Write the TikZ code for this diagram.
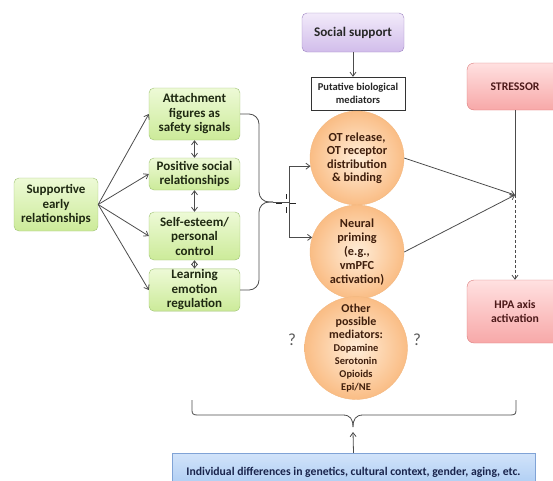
\documentclass[tikz,border=0pt]{standalone}
\usepackage{fontspec}
\setmainfont{Carlito}
\usetikzlibrary{arrows.meta,calc}

\definecolor{grnTop}{rgb}{0.93,0.98,0.84}
\definecolor{grnBot}{rgb}{0.80,0.92,0.60}
\definecolor{grnLine}{rgb}{0.62,0.76,0.45}
\definecolor{grnText}{rgb}{0.12,0.16,0.07}
\definecolor{purTop}{rgb}{0.95,0.92,0.98}
\definecolor{purBot}{rgb}{0.82,0.74,0.92}
\definecolor{purLine}{rgb}{0.62,0.52,0.76}
\definecolor{orgIn}{rgb}{1.00,0.93,0.85}
\definecolor{orgOut}{rgb}{0.98,0.74,0.52}
\definecolor{orgLine}{rgb}{0.95,0.72,0.50}
\definecolor{orgText}{rgb}{0.25,0.12,0.05}
\definecolor{redTop}{rgb}{1.00,0.88,0.88}
\definecolor{redBot}{rgb}{0.97,0.66,0.66}
\definecolor{redLine}{rgb}{0.86,0.48,0.48}
\definecolor{redText}{rgb}{0.30,0.10,0.10}
\definecolor{bluTop}{rgb}{0.82,0.89,0.98}
\definecolor{bluBot}{rgb}{0.66,0.79,0.95}
\definecolor{bluLine}{rgb}{0.50,0.64,0.84}
\definecolor{bluText}{rgb}{0.10,0.14,0.30}
\definecolor{wire}{rgb}{0.30,0.30,0.30}

\newcommand\medbig{\fontsize{12}{13.5}\selectfont}

\tikzset{
  x=1pt, y=1pt,
  txt/.style={font=\fontsize{13}{14.5}\selectfont\bfseries, align=center, inner sep=1pt},
  greenbox/.style={txt, draw=grnLine, rounded corners=5pt, top color=grnTop,
    bottom color=grnBot, text=grnText, minimum width=91pt},
  purplebox/.style={txt, font=\fontsize{13.2}{15}\selectfont\bfseries, draw=purLine,
    rounded corners=5pt, top color=purTop, bottom color=purBot, text=black!85,
    minimum width=102pt, minimum height=39pt},
  plainbox/.style={txt, font=\fontsize{10.5}{13}\selectfont\bfseries, draw=black!80,
    fill=white, text=black!85, minimum width=94pt, minimum height=33pt},
  mediator/.style={txt, font=\fontsize{12.3}{13.5}\selectfont\bfseries, circle,
    draw=orgLine, inner color=orgIn, outer color=orgOut, text=orgText,
    minimum size=94pt, inner sep=0pt},
  redbox/.style={txt, font=\fontsize{11.7}{14}\selectfont\bfseries, draw=redLine,
    rounded corners=7pt, top color=redTop, bottom color=redBot, text=redText,
    minimum width=96pt},
  bluebox/.style={txt, font=\fontsize{11.7}{13}\selectfont\bfseries, draw=bluLine,
    top color=bluTop, bottom color=bluBot, text=bluText,
    minimum width=363pt, minimum height=38pt},
  conn/.style={draw=wire, line width=0.8pt},
  arr/.style={conn, -{Straight Barb[length=4pt,width=6pt]}},
  dblarr/.style={conn, {Straight Barb[length=4pt,width=6pt]}-{Straight Barb[length=4pt,width=6pt]}},
  query/.style={font=\fontsize{17}{17}\selectfont, text=black!65},
}

\begin{document}
\begin{tikzpicture}
\useasboundingbox (0,0) rectangle (553,-480);

% left column: early relationships and what they build
\node[greenbox, minimum width=84pt, minimum height=53pt] (sup) at (56,-204.5)
  {Supportive\\early\\relationships};
\node[greenbox, minimum height=52pt] (att) at (194.5,-114)
  {Attachment\\figures as\\safety signals};
\node[greenbox, minimum height=32pt] (pos) at (194.5,-174)
  {Positive social\\relationships};
\node[greenbox, minimum height=48pt] (self) at (194.5,-236)
  {Self-esteem/\\personal\\control};
\node[greenbox, minimum height=42pt] (learn) at (194.5,-290)
  {Learning\\emotion\\regulation};

\foreach \t in {att,pos,self,learn}
  \draw[arr] (sup.east) -- (\t.west);
\draw[dblarr] (att.south) -- (pos.north);
\draw[dblarr] (pos.south) -- (self.north);
\draw[dblarr] (self.south) -- (learn.north);

% middle column: social support and its mediators
\node[purplebox] (soc) at (353,-32.5) {Social support};
\node[plainbox] (put) at (358,-93.5) {Putative biological\\mediators};
\draw[arr] (soc.south) -- (soc.south |- put.north);

\node[mediator] (ot) at (357,-158) {OT release,\\OT receptor\\distribution\\\& binding};
\node[mediator, font=\fontsize{12.3}{14}\selectfont\bfseries] (neu) at (357,-252)
  {Neural\\priming\\(e.g.,\\vmPFC\\activation)};
\node[mediator, minimum size=96pt, font=\fontsize{10.4}{13}\selectfont\bfseries] (oth) at (356,-348)
  {{\medbig Other}\\{\medbig possible}\\{\medbig mediators:}\\Dopamine\\Serotonin\\Opioids\\Epi/NE};

\node[query] (q1) at (292,-340) {?};
\node[query] (q2) at (417,-340) {?};

% brace joining the four outcomes
\coordinate (btip) at (273,-202);
\coordinate (bcol) at (259,-202);
\coordinate (split) at (289,-202);
\draw[conn, rounded corners=10pt] (att.east) -| (bcol) -- (btip);
\draw[conn, rounded corners=10pt] (learn.east) -| (bcol) -- (btip);
\draw[conn] (btip) -- (split);
\draw[arr] (split) |- (ot.190);
\draw[arr] (split) |- (neu.162);

% pointer mark at the split
\draw[black!85, line width=0.9pt] (276,-203) -- (282,-203) (290,-203) -- (296,-203)
  (286,-194) -- (286,-199) (286,-207) -- (286,-213);

% right column: stressor and HPA axis
\node[redbox, minimum height=47pt] (str) at (515,-86.5) {STRESSOR};
\node[redbox, minimum height=63pt] (hpa) at (515,-311.5) {HPA axis\\activation};
\coordinate (j) at (515,-195);
\draw[conn] (str.south) -- (j);
\draw[arr] (ot.east) -- (j);
\draw[arr] (neu.east) -- (j);
\draw[arr, densely dashed] (j) -- (hpa.north);

% individual differences acting on everything above
\node[bluebox] (ind) at (353.5,-472)
  {Individual differences in genetics, cultural context, gender, aging, etc.};
\coordinate (bl) at (192,-400);
\coordinate (br) at (516,-400);
\coordinate (bc) at (353,-427);
\coordinate (bt) at (353,-432);
\draw[conn] (bl) -- (192,-410) .. controls (192,-414) and (193,-415) .. (198,-415)
  -- (343,-415) .. controls (350,-415) and (353,-419) .. (bc);
\draw[conn] (br) -- (516,-410) .. controls (516,-414) and (515,-415) .. (510,-415)
  -- (363,-415) .. controls (356,-415) and (353,-419) .. (bc);
\draw[arr] (ind.north) -- (bt);
\end{tikzpicture}
\end{document}
